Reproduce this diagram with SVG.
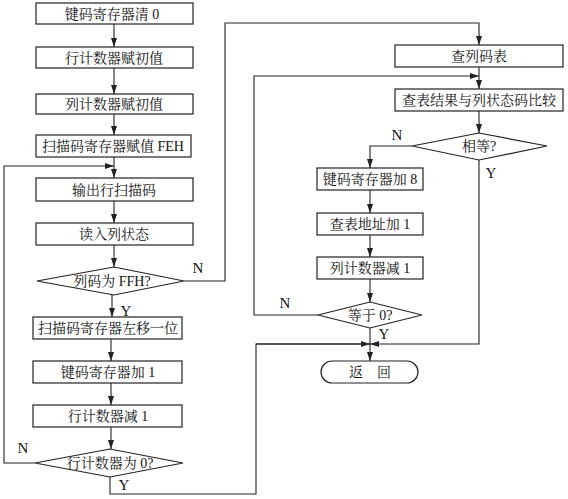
<svg xmlns="http://www.w3.org/2000/svg" width="568" height="499" viewBox="0 0 568 499">
<defs>
<marker id="ah" markerUnits="userSpaceOnUse" markerWidth="10" markerHeight="8" refX="9" refY="3.5" orient="auto">
<path d="M0,0.5 L9,3.5 L0,6.5 Z" fill="#222"/>
</marker>
</defs>
<style>
rect, polygon { fill: #fff; stroke: #222; stroke-width: 1.2; }
.c { fill: none; stroke: #222; stroke-width: 1.1; }
.a { marker-end: url(#ah); }
text { font-family: "Liberation Serif", "Noto Serif CJK SC", "Noto Sans CJK SC", serif; font-size: 14px; fill: #111; text-anchor: middle; }
.l { font-size: 15px; }
</style>
<rect width="568" height="499" style="fill:#fff;stroke:none"/>
<g id="connectors">
<path class="c a" d="M114,24 V47"/>
<path class="c a" d="M114,68 V94"/>
<path class="c a" d="M114,113 V135"/>
<path class="c a" d="M114,157 V178"/>
<path class="c a" d="M114,201 V223"/>
<path class="c a" d="M114,245 V267"/>
<path class="c a" d="M112,295 V317"/>
<path class="c a" d="M111,339 V361"/>
<path class="c a" d="M111,383 V405"/>
<path class="c a" d="M111,427 V449"/>
<path class="c a" d="M35,463 H4 V166 H114"/>
<path class="c" d="M110,477 V494 H256 V344 H370"/>
<path class="c a" d="M256,344 H370"/>
<path class="c a" d="M184,281 H225 V23 H479 V45"/>
<path class="c a" d="M479,67 V89"/>
<path class="c a" d="M479,111 V133"/>
<path class="c a" d="M412,146 H370 V168"/>
<path class="c a" d="M479,160 V344 H370"/>
<path class="c a" d="M370,190 V213"/>
<path class="c a" d="M370,235 V257"/>
<path class="c a" d="M370,279 V302"/>
<path class="c a" d="M318,315 H254 V76 H479"/>
<path class="c a" d="M370,328 V361"/>
<text class="l" x="198" y="273">N</text>
<text class="l" x="126" y="316">Y</text>
<text class="l" x="23" y="453">N</text>
<text class="l" x="124" y="490">Y</text>
<text class="l" x="397" y="140">N</text>
<text class="l" x="491" y="178">Y</text>
<text class="l" x="285" y="308">N</text>
<text class="l" x="384" y="339">Y</text>
</g>
<g id="n1"><rect x="36" y="3" width="157" height="21"/><text x="112" y="19">键码寄存器清 0</text></g>
<g id="n2"><rect x="36" y="47" width="157" height="21"/><text x="114" y="63">行计数器赋初值</text></g>
<g id="n3"><rect x="36" y="94" width="157" height="20"/><text x="114" y="109">列计数器赋初值</text></g>
<g id="n4"><rect x="36" y="135" width="155" height="22"/><text x="113" y="151">扫描码寄存器赋值 FEH</text></g>
<g id="n5"><rect x="36" y="178" width="157" height="23"/><text x="114" y="195">输出行扫描码</text></g>
<g id="n6"><rect x="36" y="223" width="157" height="22"/><text x="114" y="239">读入列状态</text></g>
<g id="d1"><polygon points="37,281 114,267 184,281 114,295"/><text x="112" y="286">列码为 FFH?</text></g>
<g id="n7"><rect x="33" y="317" width="149" height="22"/><text x="108" y="333">扫描码寄存器左移一位</text></g>
<g id="n8"><rect x="33" y="361" width="149" height="22"/><text x="108" y="377">键码寄存器加 1</text></g>
<g id="n9"><rect x="33" y="405" width="149" height="22"/><text x="108" y="421">行计数器减 1</text></g>
<g id="d2"><polygon points="35,463 110,449 183,463 110,477"/><text x="110" y="468">行计数器为 0?</text></g>
<g id="n10"><rect x="395" y="45" width="168" height="22"/><text x="479" y="61">查列码表</text></g>
<g id="n11"><rect x="395" y="89" width="168" height="22"/><text x="479" y="105">查表结果与列状态码比较</text></g>
<g id="d3"><polygon points="412,146 479,133 547,146 479,160"/><text x="479" y="151">相等?</text></g>
<g id="n12"><rect x="317" y="168" width="106" height="22"/><text x="370" y="184">键码寄存器加 8</text></g>
<g id="n13"><rect x="317" y="213" width="106" height="22"/><text x="370" y="229">查表地址加 1</text></g>
<g id="n14"><rect x="317" y="257" width="106" height="22"/><text x="370" y="273">列计数器减 1</text></g>
<g id="d4"><polygon points="318,315 370,302 422,315 370,328"/><text x="370" y="320">等于 0?</text></g>
<g id="n15"><rect x="321" y="361" width="97" height="22" rx="11" ry="11"/><text x="370" y="377">返　回</text></g>
</svg>
